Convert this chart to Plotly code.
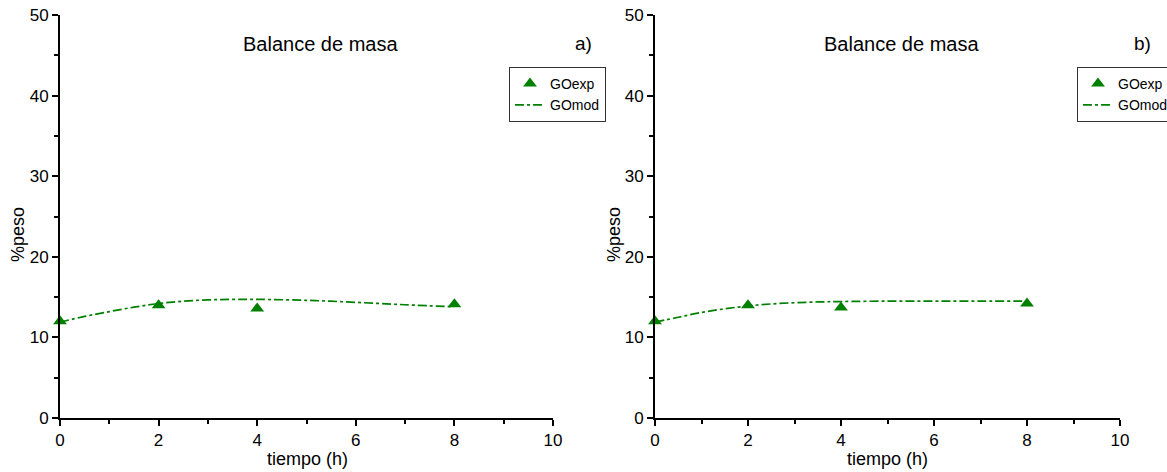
import plotly.graph_objects as go

time_exp = [0, 2, 4, 8]
go_exp_a = [12.0, 14.0, 13.6, 14.1]
go_exp_b = [12.0, 14.0, 13.7, 14.2]

time_mod = [0, 0.5, 1, 1.5, 2, 2.5, 3, 3.5, 4, 5, 6, 7, 8]
go_mod_a = [11.9, 12.6, 13.2, 13.75, 14.2, 14.5, 14.65, 14.72, 14.72, 14.6, 14.35, 14.05, 13.8]
go_mod_b = [11.9, 12.5, 13.1, 13.55, 13.9, 14.15, 14.3, 14.4, 14.45, 14.5, 14.5, 14.5, 14.5]

x_ticks = [0, 2, 4, 6, 8, 10]
y_ticks = [0, 10, 20, 30, 40, 50]

GREEN = "#008000"
FONT = "Liberation Sans, Arial, sans-serif"

fig = go.Figure()

for i, (ye, ym, leg) in enumerate([(go_exp_a, go_mod_a, "legend"), (go_exp_b, go_mod_b, "legend2")]):
    xa = "x" if i == 0 else "x2"
    ya = "y" if i == 0 else "y2"
    fig.add_trace(go.Scatter(x=time_exp, y=ye, mode="markers", name="GOexp",
                             marker=dict(symbol="triangle-up", size=12, color=GREEN),
                             xaxis=xa, yaxis=ya, legend=leg, cliponaxis=False))
    fig.add_trace(go.Scatter(x=time_mod, y=ym, mode="lines", name="GOmod",
                             line=dict(color=GREEN, width=1.7, dash="dashdot", shape="spline"),
                             xaxis=xa, yaxis=ya, legend=leg))

ybot = (472 - 418) / 472
ytop = (472 - 15) / 472

axis_common = dict(showline=True, linecolor="black", linewidth=2, ticks="outside",
                   ticklen=6, tickwidth=2, tickcolor="black", showgrid=False, zeroline=False,
                   automargin=False,
                   tickfont=dict(family=FONT, size=17, color="black"),
                   minor=dict(ticks="outside", ticklen=4, tickwidth=2, tickcolor="black", showgrid=False))

leg_common = dict(xanchor="left", yanchor="top", bordercolor="#333333", borderwidth=1,
                  bgcolor="white", itemwidth=30, entrywidth=72, entrywidthmode="pixels",
                  font=dict(family=FONT, size=14, color="black"), tracegroupgap=0)

fig.update_layout(
    width=1167, height=472,
    margin=dict(l=0, r=0, t=0, b=0, autoexpand=False),
    paper_bgcolor="white", plot_bgcolor="white",
    font=dict(family=FONT, color="black"),
    xaxis=dict(domain=[60/1167, 553/1167], range=[0, 10], tickvals=x_ticks, anchor="y", **axis_common),
    yaxis=dict(domain=[ybot, ytop], range=[0, 50], tickvals=y_ticks, anchor="x", **axis_common),
    xaxis2=dict(domain=[655/1167, 1120/1167], range=[0, 10], tickvals=x_ticks, anchor="y2", **axis_common),
    yaxis2=dict(domain=[ybot, ytop], range=[0, 50], tickvals=y_ticks, anchor="x2", **axis_common),
    legend=dict(x=509/1167, y=1 - 67/472, **leg_common),
    legend2=dict(x=1077/1167, y=1 - 67/472, **leg_common),
    showlegend=True,
)
fig.update_xaxes(minor=dict(dtick=1))
fig.update_yaxes(minor=dict(dtick=5))

def paper_text(xc, yc, text, size, angle=0):
    fig.add_annotation(x=xc/1167, y=1 - yc/472, xref="paper", yref="paper", text=text,
                       xanchor="center", yanchor="middle", textangle=angle,
                       showarrow=False, font=dict(family=FONT, size=size, color="black"))

for xc in [320, 901]:
    paper_text(xc, 44, "Balance de masa", 20)
for xc, lab in [(583, "a)"), (1142, "b)")]:
    paper_text(xc, 44, lab, 19)
for xc in [307, 887]:
    paper_text(xc, 459, "tiempo (h)", 18)
for xc in [18, 614]:
    paper_text(xc, 235, "%peso", 18, angle=-90)

fig.write_html("out.html", config={"displayModeBar": False},
               post_script="document.body.style.margin='0';document.body.style.overflow='hidden';")
